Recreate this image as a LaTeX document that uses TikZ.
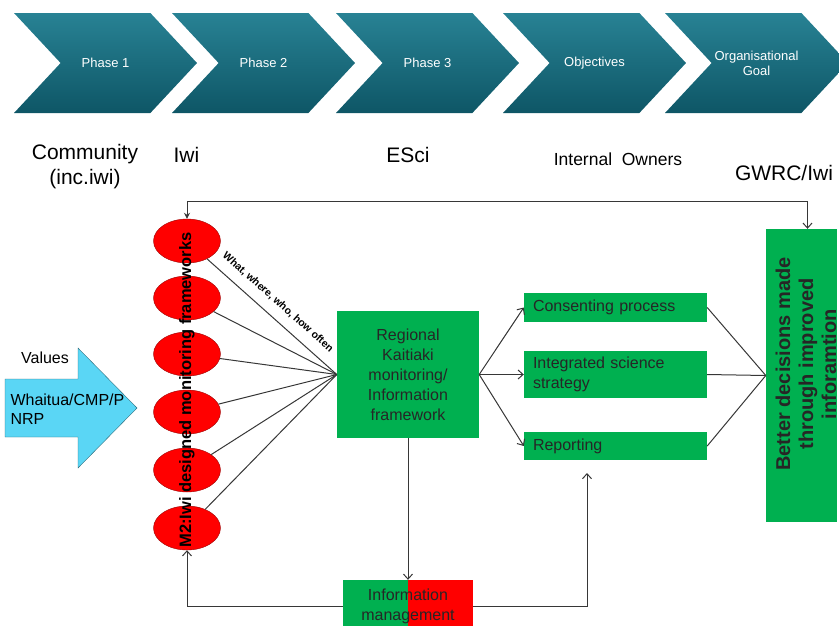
\documentclass[tikz,border=0pt]{standalone}
\usepackage{fontspec}
\setmainfont{Liberation Sans}
\usetikzlibrary{shapes.symbols,shapes.geometric,arrows.meta}

\definecolor{tealtop}{RGB}{40,130,148}
\definecolor{tealbot}{RGB}{14,86,102}
\definecolor{kgreen}{RGB}{0,176,80}
\definecolor{kred}{RGB}{255,0,0}
\definecolor{kcyan}{RGB}{90,214,245}
\definecolor{lgrey}{RGB}{55,55,55}

\tikzset{
  phase/.style={signal, signal to=east, signal from=west, signal pointer angle=94,
    minimum width=183pt, minimum height=100pt, inner sep=0pt,
    top color=tealtop, bottom color=tealbot, text=white, align=center,
    font=\fontsize{13}{15}\selectfont},
  who/.style={font=\fontsize{21}{25}\selectfont, align=center},
  eli/.style={ellipse, draw=red!60!black, fill=kred, minimum width=67pt,
    minimum height=44pt, inner sep=0pt},
  gbox/.style={rectangle, fill=kgreen, text=black!85, font=\fontsize{16}{20}\selectfont},
  rbox/.style={gbox, text width=165pt, inner xsep=9pt, align=left},
  wire/.style={draw=lgrey, line width=1pt},
}

\begin{document}
\begin{tikzpicture}[x=1pt, y=-1pt, >={Straight Barb[length=5pt,width=9pt]}]
  \useasboundingbox (0,0) rectangle (839,625);
  \clip (0,0) rectangle (839,625);

  \foreach \n/\x/\t in {1/105.5/Phase 1, 2/263.5/Phase 2, 3/427.5/Phase 3,
      4/594.5/Objectives, 5/756.5/{Organisational\\Goal}}
    \node[phase] (ph\n) at (\x,63) {\t};

  \node[who] (comm) at (85,167) {Community\\(inc.iwi)};
  \node[who, anchor=west] (iwi) at (170,155) {Iwi};
  \node[who] (esci) at (408,155) {ESci};
  \node[font=\fontsize{17.5}{20}\selectfont] (own) at (618,159) {Internal\ \ Owners};
  \node[who] (gw) at (784,173) {GWRC/Iwi};

  \draw[fill=kcyan, draw=kcyan!50!black] (5,379) -- (78,379) -- (78,348) -- (137,408)
    -- (78,468) -- (78,437) -- (5,437) -- cycle;
  \node[font=\fontsize{16}{19}\selectfont] (val) at (45,358) {Values};
  \node[anchor=west, align=left, font=\fontsize{16}{19}\selectfont] (wcp) at (7,409)
    {Whaitua/CMP/P\\NRP};

  \foreach \i/\y in {1/241, 2/298, 3/354, 4/412, 5/470, 6/528}
    \node[eli] (e\i) at (187,\y) {};
  \node[rotate=90, font=\bfseries\fontsize{16.5}{19}\selectfont] (mtext) at (187,390)
    {M2:Iwi designed monitoring frameworks};

  \node[gbox, minimum width=142pt, minimum height=127pt, align=center] (rk) at (408,374.5)
    {Regional\\Kaitiaki\\monitoring/\\Information\\framework};
  \foreach \i in {1,...,6}
    \draw[wire] (e\i) -- (rk.west);
  \path (e1) -- (rk.west) node[pos=0.47, sloped, above=9pt, inner sep=1pt,
    font=\bfseries\fontsize{10.5}{12}\selectfont] (www) {What, where, who, how often};

  \node[rbox, minimum height=29pt] (cp) at (615.5,307.5) {Consenting process};
  \node[rbox, minimum height=47pt] (isc) at (615.5,374.5) {Integrated science\\strategy};
  \node[rbox, minimum height=28pt] (rp) at (615.5,446) {Reporting};
  \foreach \b in {cp,isc,rp}
    \draw[wire,->] (rk.east) -- (\b.west);

  \node[gbox, minimum width=71pt, minimum height=293pt] (bd) at (801.5,375.5) {};
  \node[rotate=90, align=center, text=black!85, font=\bfseries\fontsize{20}{23}\selectfont]
    (bdt) at (806,364) {Better decisions made\\through improved\\inforamtion};
  \foreach \b in {cp,isc,rp}
    \draw[wire] (\b.east) -- (bd.west);

  \draw[wire,{Stealth[length=6pt,width=6pt]}-{Straight Barb[length=5pt,width=9pt]}]
    (e1.north) -- ++(0,-17) -| ([xshift=6pt]bd.north);

  \node[minimum width=130pt, minimum height=52pt, fill=kred, align=center,
    text=black!85, font=\fontsize{16}{20}\selectfont,
    path picture={\fill[kgreen] (path picture bounding box.south west)
      rectangle (path picture bounding box.north);}] (im) at (408,606)
    {Information\\management};
  \draw[wire,->] (rk.south) -- (im.north);
  \draw[wire,->] (im.west) -| (e6.south);
  \coordinate (rpin) at (587,473);
  \draw[wire,->] (im.east) -| (rpin);
\end{tikzpicture}
\end{document}
